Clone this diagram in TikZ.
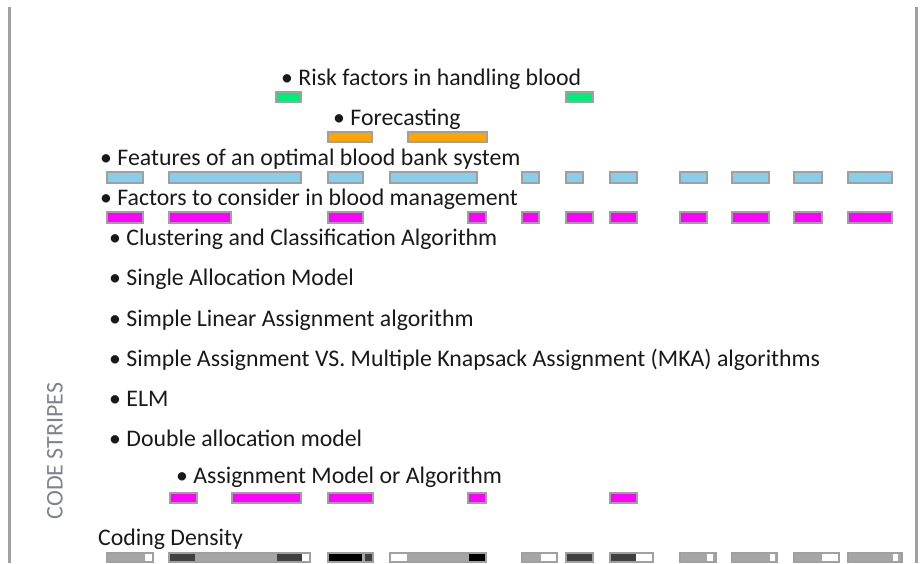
\documentclass[tikz,border=0pt]{standalone}
\usepackage{fontspec}
\setmainfont{Carlito}
\definecolor{riskgreen}{RGB}{0,238,118}
\definecolor{foreorange}{RGB}{255,165,0}
\definecolor{featblue}{RGB}{135,206,235}
\definecolor{factmag}{RGB}{255,0,255}
\definecolor{densgray}{RGB}{166,166,166}
\definecolor{densdark}{RGB}{64,64,64}
\definecolor{axisgray}{RGB}{160,160,160}
\definecolor{titlegray}{RGB}{125,132,145}
\begin{document}
\begin{tikzpicture}[x=1pt,y=-1pt,
  lbl/.style={anchor=base west, inner sep=0pt, font=\fontsize{23.8}{28}\selectfont, text=black!90},
  stripe/.style={draw=axisgray, line width=1.3pt},
  densbox/.style={draw=axisgray, line width=1.3pt},
  frame/.style={draw=axisgray, line width=3pt}]
\useasboundingbox (0,0) rectangle (921,563);

% side rules
\draw[frame] (9.5,7) -- (9.5,563);
\draw[frame] (916.5,7) -- (916.5,563);

% vertical title
\node[rotate=90, inner sep=0pt, text=titlegray, font=\fontsize{24}{28}\selectfont] (title) at (55,451) {CODE STRIPES};

% code labels
\node[lbl] (risk) at (281,85) {• Risk factors in handling blood};
\node[lbl] (fore) at (333,125) {• Forecasting};
\node[lbl] (feat) at (100,165) {• Features of an optimal blood bank system};
\node[lbl] (fact) at (100,205) {• Factors to consider in blood management};
\node[lbl] (clus) at (109,245) {• Clustering and Classification Algorithm};
\node[lbl] (sing) at (109,285) {• Single Allocation Model};
\node[lbl] (slin) at (109,326) {• Simple Linear Assignment algorithm};
\node[lbl] (smka) at (109,366) {• Simple Assignment VS. Multiple Knapsack Assignment (MKA) algorithms};
\node[lbl] (elm)  at (109,406) {• ELM};
\node[lbl] (dbl)  at (109,446) {• Double allocation model};
\node[lbl] (assg) at (176,483) {• Assignment Model or Algorithm};
\node[lbl] (dens) at (98,545) {Coding Density};

% stripes
\foreach \a/\b in {276/301,566/593}
  \draw[stripe, fill=riskgreen] (\a,92) rectangle (\b,102);
\foreach \a/\b in {328/372,408/487}
  \draw[stripe, fill=foreorange] (\a,132) rectangle (\b,142);
\foreach \a/\b in {107/143,169/301,328/363,390/477,522/539,566/583,610/637,680/707,732/769,794/822,848/892}
  \draw[stripe, fill=featblue] (\a,172) rectangle (\b,183);
\foreach \a/\b in {107/143,169/231,328/363,468/486,522/539,566/593,610/637,680/707,732/769,794/822,848/892}
  \draw[stripe, fill=factmag] (\a,212) rectangle (\b,223);
\foreach \a/\b in {170/197,232/301,328/373,468/486,610/637}
  \draw[stripe, fill=factmag] (\a,493) rectangle (\b,503);

% coding density bars: segments first, then outline
\def\dy{553}\def\dh{562}
\foreach \a/\b/\c in {107/145/densgray,145/153/white,
  169/195/densdark,195/277/densgray,277/302/densdark,302/310/white,
  328/362/black,362/365/densgray,365/373/densdark,
  390/407/white,407/469/densgray,469/486/black,
  522/541/densgray,541/557/white,
  566/593/densdark,
  610/636/densdark,636/653/white,
  680/707/densgray,707/713/white,713/716/densgray,
  732/770/densgray,770/775/white,775/777/densgray,
  794/822/densgray,822/839/white,
  848/893/densgray,893/898/white,898/902/densgray}
  \fill[\c] (\a,\dy) rectangle (\b,\dh);
\foreach \a/\b in {107/153,169/310,328/373,390/486,522/557,566/593,610/653,680/716,732/777,794/839,848/902}
  \draw[densbox] (\a,\dy) rectangle (\b,\dh);
\end{tikzpicture}
\end{document}
